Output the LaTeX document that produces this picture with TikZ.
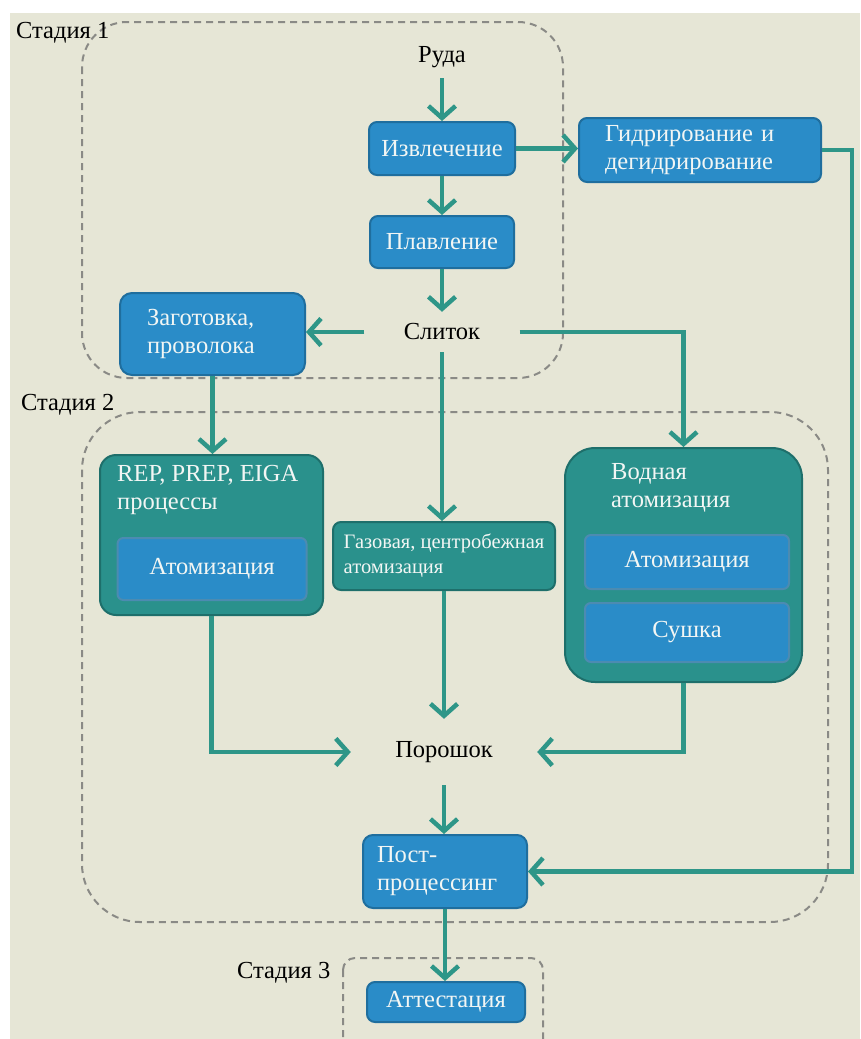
\documentclass[tikz,border=0pt]{standalone}
\usepackage{fontspec}
\setmainfont{Liberation Serif}
\usetikzlibrary{arrows.meta}
\definecolor{bgc}{HTML}{E6E6D6}
\definecolor{bluefill}{HTML}{2A8CC8}
\definecolor{blueline}{HTML}{1F6E9E}
\definecolor{tealfill}{HTML}{2A918C}
\definecolor{tealline}{HTML}{1E6F6B}
\definecolor{arrc}{HTML}{2E9688}
\definecolor{dashc}{HTML}{8A8A86}
\definecolor{wtxt}{HTML}{F2F6F4}
\tikzset{
  bluebox/.style={draw=blueline, fill=bluefill, line width=2pt, rounded corners=8pt, text=wtxt,
    font=\fontsize{24.5}{28}\selectfont, inner sep=0pt},
  tealbox/.style={draw=tealline, fill=tealfill, line width=2pt, rounded corners=16pt, text=wtxt,
    font=\fontsize{24.5}{28}\selectfont, inner sep=0pt},
  plain/.style={text=black, font=\fontsize{24.5}{28}\selectfont, inner sep=0pt},
  wtext/.style={text=wtxt, font=\fontsize{24.5}{28}\selectfont, inner sep=0pt, align=left},
  arr/.style={draw=arrc, line width=4.5pt, -{Straight Barb[length=12pt,width=27pt,line width=4.5pt]}},
  stagebox/.style={draw=dashc, line width=2pt, dash pattern=on 7pt off 5pt}
}
\begin{document}
\begin{tikzpicture}[x=1pt,y=-1pt]
\useasboundingbox (0,0) rectangle (860,1039);
\fill[white] (0,0) rectangle (860,1039);
\fill[bgc] (10,13) rectangle (860,1039);

% stage frames
\draw[stagebox, rounded corners=45pt] (82,22) rectangle (563,378);
\draw[stagebox, rounded corners=58pt] (82,412) rectangle (828,922);
\begin{scope}
\clip (0,0) rectangle (860,1039);
\draw[stagebox, rounded corners=12pt] (343,958) rectangle (543,1060);
\end{scope}

\node[plain, anchor=west] (st1) at (16,33) {Стадия 1};
\node[plain, anchor=west] (st2) at (21,405) {Стадия 2};
\node[plain, anchor=west] (st3) at (237,973) {Стадия 3};

% text nodes
\node[plain, minimum width=60pt, minimum height=42pt] (ruda) at (442,57) {Руда};
\node[plain, minimum width=155pt, minimum height=40pt] (slitok) at (442,332) {Слиток};
\node[plain, minimum width=186pt, minimum height=66pt] (poroshok) at (444,752) {Порошок};

% stage 1 boxes
\node[bluebox, minimum width=146pt, minimum height=53pt] (izv) at (442,148.5) {Извлечение};
\node[bluebox, minimum width=144pt, minimum height=52pt] (plav) at (442,242) {Плавление};
\node[bluebox, minimum width=242pt, minimum height=64pt, text width=190pt, align=left] (gid) at (700,150)
  {Гидрирование и\\дегидрирование};
\node[bluebox, rounded corners=12pt, minimum width=185pt, minimum height=82pt, text width=131pt, align=left] (zag) at (212.5,334)
  {Заготовка,\\проволока};

% stage 2 boxes
\node[tealbox, minimum width=223pt, minimum height=160pt] (rep) at (211.5,535) {};
\node[wtext, anchor=north west] (reptxt) at (117,465) {REP, PREP, EIGA\\процессы};
\node[bluebox, draw=blueline!80, rounded corners=6pt, minimum width=189pt, minimum height=62pt] (repat) at (212,569) {Атомизация};

\node[tealbox, rounded corners=8pt, minimum width=222pt, minimum height=68pt, align=left,
  font=\fontsize{20.5}{25}\selectfont] (gaz) at (444,556) {Газовая, центробежная\\атомизация};

\node[tealbox, rounded corners=30pt, minimum width=237pt, minimum height=234pt] (vod) at (683.5,565) {};
\node[wtext, anchor=north west] (vodtxt) at (611,463) {Водная\\атомизация};
\node[bluebox, draw=blueline!80, rounded corners=6pt, minimum width=204pt, minimum height=54pt] (vodat) at (687,562) {Атомизация};
\node[bluebox, draw=blueline!80, rounded corners=6pt, minimum width=204pt, minimum height=59pt] (sush) at (687,632.5) {Сушка};

\node[bluebox, rounded corners=10pt, minimum width=164pt, minimum height=73pt, text width=136pt, align=left] (post) at (445,871.5)
  {Пост-\\процессинг};

% stage 3
\node[bluebox, minimum width=158pt, minimum height=40pt] (att) at (446,1002) {Аттестация};

% connectors
\coordinate (rline) at (852,0);
\draw[arr] (ruda.south) -- (izv.north);
\draw[arr] (izv.south) -- (plav.north);
\draw[arr] (plav.south) -- (slitok.north);
\draw[arr] (izv.east) -- (izv.east -| gid.west);
\draw[arr] (gid.east) -- (gid.east -| rline) |- (post.east);
\draw[arr] (slitok.west) -- (slitok.west -| zag.east);
\draw[arr] (slitok.east) -| (vod.north);
\draw[arr] (slitok.south) -- (slitok.south |- gaz.north);
\draw[arr] (zag.south) -- (zag.south |- rep.north);
\draw[arr] (rep.south) |- (poroshok.west);
\draw[arr] (gaz.south) -- (poroshok.north);
\draw[arr] (vod.south) |- (poroshok.east);
\draw[arr] (poroshok.south) -- (poroshok.south |- post.north);
\draw[arr] (post.south) -- (post.south |- att.north);
\end{tikzpicture}
\end{document}
